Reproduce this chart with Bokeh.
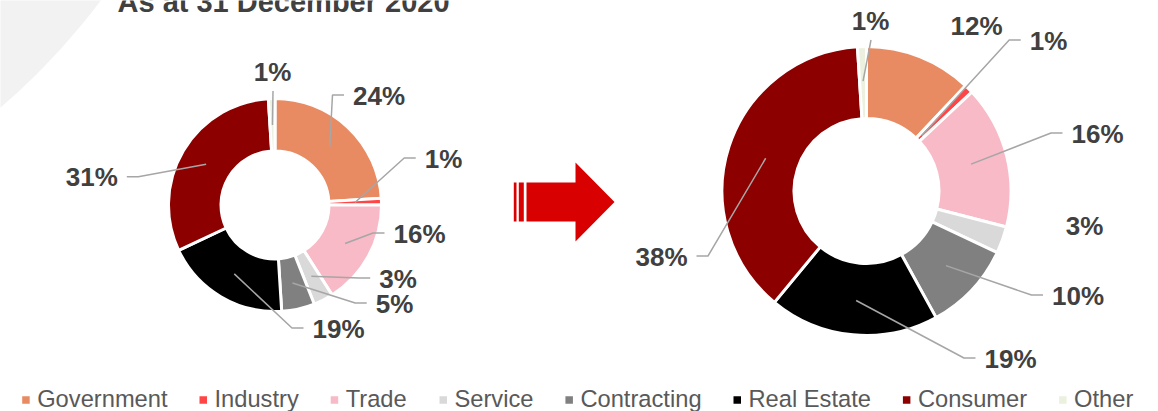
import math
from bokeh.plotting import figure
from bokeh.models import Range1d, ColumnDataSource
from bokeh.embed import file_html
from bokeh.resources import INLINE
from bokeh.core.properties import value

# ---------------- data ----------------
categories = ["Government", "Industry", "Trade", "Service", "Contracting",
              "Real Estate", "Consumer", "Other"]
share_dec_2020 = [24, 1, 16, 3, 5, 19, 31, 1]
share_current = [12, 1, 16, 3, 10, 19, 38, 1]
title_text = "As at 31 December 2020"

# ---------------- styles / layout ----------------
colors = ["#E98B62", "#FF4545", "#F7BAC6", "#D9D9D9", "#808080",
          "#000000", "#8C0000", "#EBF1DE"]
FONT = "Liberation Sans"
LABEL_COLOR = "#404040"
LEADER_COLOR = "#A6A6A6"
LABEL_SIZE = 26
LEGEND_SIZE = 23.7

W, H = 1158, 411


def X(px):
    return px


def Y(py):
    return H - py


# label centres as (dx, dy) from donut centre, leader mode, anchor radius
left_layout = dict(
    cx=274.5, cy=204.5, R=105, r=55.5,
    offsets=[(104, -109.5), (168.5, -46.5), (144.5, 28.5), (123, 73.5),
             (119.5, 98.5), (63.5, 123.5), (-183.2, -27.8), (-2.5, -133.5)],
    modes=["h", "h", "h", "h", "h", "h", "h", "v"],
    anchor_r=[80, 80, 80, 80, 80, 80, 80, 80],
)
right_layout = dict(
    cx=866, cy=190.5, R=143, r=74,
    offsets=[(110, -165.5), (182, -150.5), (231, -57.5), (218, 34.5),
             (211.5, 104.5), (144, 167.5), (-205, 65.5), (4, -170.5)],
    modes=[None, "h", "h", None, "h", "h", "h", "v"],
    anchor_r=[110, 78, 108, 110, 109, 110, 106, 110],
)

BOLD_W = {"%": 0.889}
REG_W = {"G": .778, "o": .556, "v": .5, "e": .556, "r": .333, "n": .556, "m": .833,
         "t": .278, "I": .278, "d": .556, "u": .556, "s": .5, "y": .5, "T": .611,
         "a": .556, "S": .667, "i": .222, "c": .5, "C": .722, "g": .556, "R": .722,
         "l": .222, " ": .278, "E": .667, "O": .778, "h": .556}


def bold_width(s, size):
    return sum(BOLD_W.get(ch, 0.556) for ch in s) * size


def reg_width(s, size):
    return sum(REG_W.get(ch, 0.556) for ch in s) * size


p = figure(width=W, height=H, x_range=Range1d(0, W), y_range=Range1d(0, H),
           output_backend="svg", toolbar_location=None, min_border=0,
           x_axis_location=None, y_axis_location=None)
p.grid.visible = False
p.outline_line_color = None
p.background_fill_color = "white"
p.border_fill_color = "white"

# background decoration
p.circle(x=[X(-433)], y=[Y(-399)], radius=666, fill_color="#F2F2F2", line_color=None)

# title (mostly cut at the top as in the reference)
p.text(x=[X(117)], y=[Y(1.5)], text=[title_text], text_font=value(FONT),
       text_font_style="bold", text_font_size="29px", text_color=LABEL_COLOR,
       text_baseline="alphabetic", text_align="left")


def draw_donut(values, lay):
    cx, cy = lay["cx"], lay["cy"]
    total = float(sum(values))
    starts, ends, mids = [], [], []
    acc = 0.0
    for v in values:
        t1 = 2 * math.pi * acc / total
        acc += v
        t2 = 2 * math.pi * acc / total
        starts.append(math.pi / 2 - t2)
        ends.append(math.pi / 2 - t1)
        mids.append((t1 + t2) / 2)
    src = ColumnDataSource(dict(cat=categories, start=starts, end=ends, color=colors))
    p.annular_wedge(x=X(cx), y=Y(cy), inner_radius=lay["r"] - 1.5,
                    outer_radius=lay["R"] + 1.5, start_angle="start", end_angle="end",
                    direction="anticlock", fill_color="color", line_color="white",
                    line_width=3, source=src)

    lx_all, ly_all, txt = [], [], []
    xs, ys = [], []
    for i, v in enumerate(values):
        dx, dy = lay["offsets"][i]
        lx, ly = cx + dx, cy + dy
        label = f"{v}%"
        lx_all.append(X(lx))
        ly_all.append(Y(ly))
        txt.append(label)
        mode = lay["modes"][i]
        th = mids[i]
        ar = lay["anchor_r"][i]
        ax, ay = cx + ar * math.sin(th), cy - ar * math.cos(th)
        if mode == "h":
            w = bold_width(label, LABEL_SIZE)
            if dx > 0:
                e1 = lx - w / 2 - 9
                e2 = e1 - 11.5
            else:
                e1 = lx + w / 2 + 9
                e2 = e1 + 11.5
            xs.append([X(e1), X(e2), X(ax)])
            ys.append([Y(ly - 0.5), Y(ly - 0.5), Y(ay)])
        elif mode == "v":
            xs.append([X(lx + 0.5), X(ax)])
            ys.append([Y(ly + 19.5), Y(ay)])
    p.multi_line(xs=xs, ys=ys, line_color=LEADER_COLOR, line_width=1.5)
    p.text(x=lx_all, y=ly_all, text=txt, text_font=value(FONT), text_font_style="bold",
           text_font_size=f"{LABEL_SIZE}px", text_color=LABEL_COLOR,
           text_align="center", text_baseline="alphabetic")


draw_donut(share_dec_2020, left_layout)
draw_donut(share_current, right_layout)

# arrow between the charts
arrow_red = "#D80000"
p.patch(x=[X(526), X(575), X(575), X(614), X(575), X(575), X(526)],
        y=[Y(182), Y(182), Y(162), Y(201.5), Y(241), Y(221), Y(221)],
        fill_color=arrow_red, line_color=None)
p.quad(left=[X(513.3), X(518.3)], right=[X(516), X(523.3)],
       bottom=[Y(221), Y(221)], top=[Y(182), Y(182)],
       fill_color=arrow_red, line_color=None)

# legend
leg_center = 398.2
mk = 7.5
gap_mt = 7.5
spacing = 31.9
x = 21.7
mx, mcol, tx, tt = [], [], [], []
for cat, col in zip(categories, colors):
    mx.append(X(x + mk / 2))
    mcol.append(col)
    tx.append(X(x + mk + gap_mt))
    tt.append(cat)
    x += mk + gap_mt + reg_width(cat, LEGEND_SIZE) + spacing
p.rect(x=mx, y=[Y(399.5)] * len(mx), width=mk, height=mk,
       fill_color=mcol, line_color=None)
p.text(x=tx, y=[Y(leg_center)] * len(tx), text=tt, text_font=value(FONT),
       text_font_size=f"{LEGEND_SIZE}px", text_color="#595959",
       text_align="left", text_baseline="alphabetic")

open("out.html", "w").write(file_html(p, INLINE))
